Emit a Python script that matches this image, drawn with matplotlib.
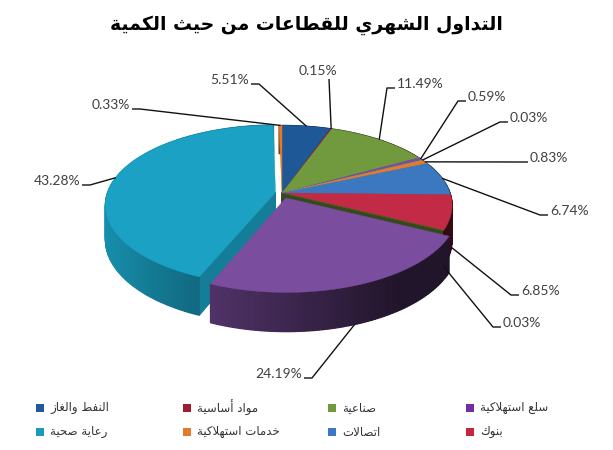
import numpy as np
import matplotlib
matplotlib.use('Agg')
import matplotlib.pyplot as plt
from matplotlib.patches import Polygon
from matplotlib.colors import to_rgb

# ---------------- data ----------------
title = 'التداول الشهري للقطاعات من حيث الكمية'
values = [5.51, 0.15, 11.49, 0.59, 0.03, 0.83, 6.74, 6.85, 0.03, 24.19, 43.28, 0.33]
slice_colors = ['#1F5896', '#8F1C32', '#71993D', '#7A4D9E', '#1AA1C3', '#E27B2A',
                '#3C78C0', '#C32A45', '#435F22', '#7A4D9E', '#1AA1C3', '#E27B2A']
explode = [0, 0, 0, 0, 0, 0, 0, 0, 0, 0.065, 0.04, 0]
legend_names = ['النفط والغاز', 'مواد أساسية', 'صناعية', 'سلع استهلاكية',
                'رعاية صحية', 'خدمات استهلاكية', 'اتصالات', 'بنوك']
legend_colors = ['#1F5896', '#A01C34', '#71993D', '#7030A0',
                 '#1A9BB8', '#E27B2A', '#3C78C0', '#C8233F']

# label layout (text position, alignment)
label_pos = [(249, 80, 'right'), (318, 71, 'center'), (397, 84, 'left'),
             (468, 97, 'left'), (510, 118, 'left'), (530, 158, 'left'),
             (550, 211, 'left'), (521, 291, 'left'), (503, 323, 'left'),
             (302, 374, 'right'), (80, 181, 'right'), (130, 105, 'right')]

# ---------------- Arabic shaping (presentation forms + RTL) ----------------
FORMS = {
    'ا': ('\uFE8D', '\uFE8E', None, None), 'أ': ('\uFE83', '\uFE84', None, None),
    'ب': ('\uFE8F', '\uFE90', '\uFE91', '\uFE92'), 'ة': ('\uFE93', '\uFE94', None, None),
    'ت': ('\uFE95', '\uFE96', '\uFE97', '\uFE98'), 'ث': ('\uFE99', '\uFE9A', '\uFE9B', '\uFE9C'),
    'ح': ('\uFEA1', '\uFEA2', '\uFEA3', '\uFEA4'), 'خ': ('\uFEA5', '\uFEA6', '\uFEA7', '\uFEA8'),
    'د': ('\uFEA9', '\uFEAA', None, None), 'ر': ('\uFEAD', '\uFEAE', None, None),
    'ز': ('\uFEAF', '\uFEB0', None, None), 'س': ('\uFEB1', '\uFEB2', '\uFEB3', '\uFEB4'),
    'ش': ('\uFEB5', '\uFEB6', '\uFEB7', '\uFEB8'), 'ص': ('\uFEB9', '\uFEBA', '\uFEBB', '\uFEBC'),
    'ط': ('\uFEC1', '\uFEC2', '\uFEC3', '\uFEC4'), 'ع': ('\uFEC9', '\uFECA', '\uFECB', '\uFECC'),
    'غ': ('\uFECD', '\uFECE', '\uFECF', '\uFED0'), 'ف': ('\uFED1', '\uFED2', '\uFED3', '\uFED4'),
    'ق': ('\uFED5', '\uFED6', '\uFED7', '\uFED8'), 'ك': ('\uFED9', '\uFEDA', '\uFEDB', '\uFEDC'),
    'ل': ('\uFEDD', '\uFEDE', '\uFEDF', '\uFEE0'), 'م': ('\uFEE1', '\uFEE2', '\uFEE3', '\uFEE4'),
    'ن': ('\uFEE5', '\uFEE6', '\uFEE7', '\uFEE8'), 'ه': ('\uFEE9', '\uFEEA', '\uFEEB', '\uFEEC'),
    'و': ('\uFEED', '\uFEEE', None, None), 'ي': ('\uFEF1', '\uFEF2', '\uFEF3', '\uFEF4'),
    'لا': ('\uFEFB', '\uFEFC', None, None), 'لأ': ('\uFEF7', '\uFEF8', None, None),
}


def shape(text):
    toks, i = [], 0
    while i < len(text):
        c = text[i]
        if c == 'ل' and i + 1 < len(text) and text[i + 1] in 'اأ':
            toks.append(c + text[i + 1]); i += 2
        else:
            toks.append(c); i += 1
    out = []
    for k, t in enumerate(toks):
        if t not in FORMS:
            out.append(t); continue
        iso, fin, ini, med = FORMS[t]
        prev = toks[k - 1] if k > 0 else None
        nxt = toks[k + 1] if k + 1 < len(toks) else None
        jp = prev in FORMS and FORMS[prev][2] is not None
        jn = ini is not None and nxt in FORMS
        out.append(med if (jp and jn) else fin if jp else ini if jn else iso)
    return ''.join(reversed(out))


# ---------------- figure ----------------
fig = plt.figure(figsize=(6.13, 4.5), dpi=100)
ax = fig.add_axes([0, 0, 1, 1])
ax.set_xlim(0, 613)
ax.set_ylim(450, 0)
ax.axis('off')

CX, CY, RX, RY, P, H = 282, 193, 168, 80.25, 0.158, 33.6


def proj(X, Y, z=0.0):
    s = 1 + P * Y
    return CX + RX * X * s, CY + RY * Y * s + H * z * s


def shade(c, f):
    r, g, b = to_rgb(c)
    return (r * f, g * f, b * f)


total = sum(values)
bounds = np.concatenate([[0], np.cumsum(values)]) / total * 360.0

sides = []   # (depth, polygon, color)
tops = []
anchors = []
for i, v in enumerate(values):
    t0, t1 = np.radians(bounds[i]), np.radians(bounds[i + 1])
    tm = 0.5 * (t0 + t1)
    ox, oy = explode[i] * np.sin(tm), -explode[i] * np.cos(tm)
    n = max(2, int(np.degrees(t1 - t0) / 1.0) + 2)
    th = np.linspace(t0, t1, n)
    X = ox + np.sin(th)
    Y = oy - np.cos(th)
    topc = [proj(ox, oy)] + [proj(a, b) for a, b in zip(X, Y)]
    tops.append((oy, topc, slice_colors[i]))
    # outer wall segments
    for k in range(n - 1):
        ym = 0.5 * (Y[k] + Y[k + 1])
        f = float(np.clip(0.5 - 0.4 * np.sin(0.5 * (th[k] + th[k + 1])), 0.27, 0.88))
        quad = [proj(X[k], Y[k]), proj(X[k + 1], Y[k + 1]),
                proj(X[k + 1], Y[k + 1], 1), proj(X[k], Y[k], 1)]
        sides.append((ym, quad, shade(slice_colors[i], f)))
    # radial faces
    for te, sgn in ((t0, -1), (t1, 1)):
        ny = sgn * np.sin(te)
        if ny > 0.05:
            rx_, ry_ = ox + np.sin(te), oy - np.cos(te)
            quad = [proj(ox, oy), proj(rx_, ry_), proj(rx_, ry_, 1), proj(ox, oy, 1)]
            sides.append((0.5 * (oy + ry_), quad, shade(slice_colors[i], 0.78)))
    # label anchor
    ax_, ay_ = ox + np.sin(tm), oy - np.cos(tm)
    anchors.append(proj(ax_, ay_, 1.0 if ay_ > 0.1 else 0.0))

for d, poly, c in sorted(sides, key=lambda s: s[0]):
    ax.add_patch(Polygon(poly, closed=True, facecolor=c, edgecolor=c, lw=0.9,
                         joinstyle='miter', zorder=2))
for d, poly, c in sorted(tops, key=lambda s: s[0]):
    ax.add_patch(Polygon(poly, closed=True, facecolor=c, edgecolor=c, lw=0.3, zorder=3))

# ---------------- labels ----------------
lab_font = dict(family='Lato', fontsize=10, color='#404040')
for i, v in enumerate(values):
    tx, ty, ha = label_pos[i]
    axp, ayp = anchors[i]
    ax.text(tx, ty, f'{v:.2f}%', ha=ha, va='center', zorder=5, **lab_font)
    if ha == 'left':
        pts = [(axp, ayp), (tx - 10, ty + 4), (tx - 2, ty + 4)]
    elif ha == 'right':
        pts = [(axp, ayp), (tx + 10, ty + 4), (tx + 2, ty + 4)]
    else:
        pts = [(axp, ayp), (tx + 11, ty + 8)]
    xs, ys = zip(*pts)
    ax.plot(xs, ys, color='#111111', lw=1.0, zorder=4, solid_capstyle='butt')

# ---------------- title ----------------
ax.text(306, 25, shape(title), ha='center', va='center', fontsize=13.5,
        fontweight='bold', family='DejaVu Sans', color='black')

# ---------------- legend ----------------
col_x = [36, 183, 328, 466]
row_y = [408, 432]
for j, (name, col) in enumerate(zip(legend_names, legend_colors)):
    x0 = col_x[j % 4]
    y0 = row_y[j // 4]
    ax.add_patch(Polygon([(x0, y0 - 4), (x0 + 8, y0 - 4), (x0 + 8, y0 + 4), (x0, y0 + 4)],
                         closed=True, facecolor=col, edgecolor='none'))
    ax.text(x0 + 14, y0, shape(name), ha='left', va='center', fontsize=8.5,
            family='DejaVu Sans', color='#333333')

fig.savefig('out.png', dpi=100)
